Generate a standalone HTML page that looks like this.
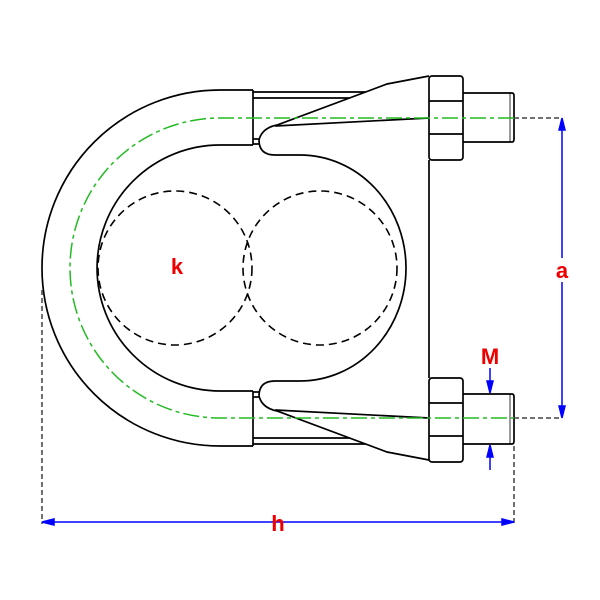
<!DOCTYPE html>
<html><head><style>html,body{margin:0;padding:0;background:#fff;}svg{display:block;}</style></head>
<body>
<svg width="600" height="600" viewBox="0 0 600 600" xmlns="http://www.w3.org/2000/svg">
<rect width="600" height="600" fill="#fff"/>
<g fill="none" stroke="#000" stroke-width="1.7">
<path d="M253 90 L220 90 A178 178 0 0 0 220 446 L253 446"/>
<path d="M253 145 L220 145 A123 123 0 0 0 220 391 L253 391"/>
<line x1="253" y1="90" x2="253" y2="145"/>
<line x1="253" y1="391" x2="253" y2="446"/>
<line x1="253" y1="92" x2="430" y2="92"/>
<line x1="253" y1="98" x2="430" y2="98"/>
<line x1="253" y1="139" x2="262" y2="139"/>
<line x1="253" y1="144" x2="262" y2="144"/>
<path d="M463 93 L512 93 Q514 93 514 96 L514 139 Q514 142 512 142 L463 142"/>
<line x1="510" y1="93" x2="510" y2="142" stroke-width="0.8"/>
<line x1="253" y1="438" x2="430" y2="438"/>
<line x1="253" y1="444" x2="430" y2="444"/>
<line x1="253" y1="392" x2="262" y2="392"/>
<line x1="253" y1="397" x2="262" y2="397"/>
<path d="M463 394 L512 394 Q514 394 514 397 L514 441 Q514 444 512 444 L463 444"/>
<line x1="510" y1="394" x2="510" y2="444" stroke-width="0.8"/>
<path d="M429 76 L387 84 L277 125 Q262 128 259 140 Q259 155 275 155 L300 155 A106 113 0 0 1 300 381 L275 381 Q259 381 259 396 Q262 408 277 411 L387 452 L429 460" fill="#fff"/>
<line x1="275" y1="126" x2="429" y2="118"/>
<line x1="275" y1="410" x2="429" y2="418"/>
<line x1="429" y1="160" x2="429" y2="378"/>
<rect x="429" y="76" width="34" height="84" rx="3" fill="#fff"/>
<line x1="429" y1="101" x2="463" y2="101"/>
<line x1="429" y1="134" x2="463" y2="134"/>
<rect x="429" y="378" width="34" height="84" rx="3" fill="#fff"/>
<line x1="429" y1="403" x2="463" y2="403"/>
<line x1="429" y1="436" x2="463" y2="436"/>
</g>
<g fill="none" stroke="#000" stroke-width="1.6" stroke-dasharray="8,5">
<circle cx="175" cy="268" r="77"/>
<circle cx="320" cy="268" r="77"/>
</g>
<g fill="none" stroke="#2b2" stroke-width="1.5" stroke-dasharray="16,4,4,4">
<path d="M514 118 L220 118 A150 150 0 0 0 220 418 L514 418"/>
</g>
<g stroke="#444" stroke-width="1.5" stroke-dasharray="5,3" fill="none">
<line x1="514" y1="118" x2="562" y2="118"/>
<line x1="514" y1="418" x2="562" y2="418"/>
<line x1="42" y1="290" x2="42" y2="524"/>
<line x1="514" y1="446" x2="514" y2="524"/>
</g>
<g stroke="#00f" stroke-width="1.5" fill="#00f">
<line x1="44" y1="522" x2="512" y2="522"/>
<path d="M42 522 L54 519 L54 525Z"/><path d="M514 522 L502 519 L502 525Z"/>
<line x1="562" y1="120" x2="562" y2="416"/>
<path d="M562 118 L559 130 L565 130Z"/><path d="M562 418 L559 406 L565 406Z"/>
<line x1="490" y1="368" x2="490" y2="392"/>
<path d="M490 393 L487 381 L493 381Z"/>
<line x1="490" y1="446" x2="490" y2="470"/>
<path d="M490 445 L487 457 L493 457Z"/>
</g>
<rect x="551" y="258" width="22" height="24" fill="#fff"/>
<g font-family="Liberation Sans, sans-serif" font-weight="bold" font-size="22" fill="#e00" text-anchor="middle">
<text x="562" y="278">a</text>
<text x="278" y="531">h</text>
<text x="490" y="364">M</text>
<text x="177" y="274">k</text>
</g>
</svg>
</body></html>
